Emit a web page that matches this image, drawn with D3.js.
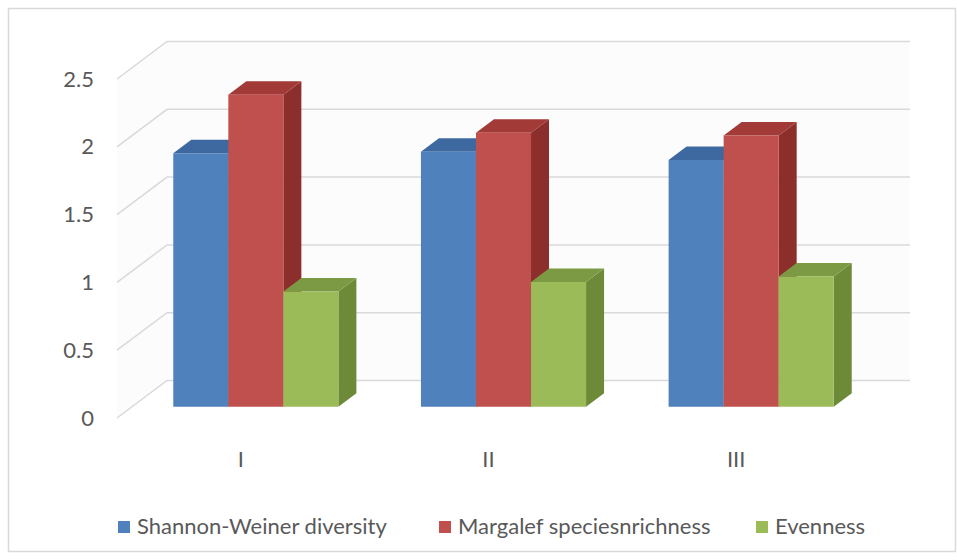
<!DOCTYPE html>
<html>
<head>
<meta charset="utf-8">
<script src="https://cdn.jsdelivr.net/npm/d3@7"></script>
<style>
  body { margin: 0; background: #fff; }
  svg { display: block; font-family: Lato, 'Open Sans', sans-serif; }
  .tick-label { fill: #595959; font-size: 22px; }
  .legend-label { fill: #595959; font-size: 22px; }
</style>
</head>
<body>
<svg id="chart" width="957" height="560"></svg>
<script>
const categories = ['I', 'II', 'III'];
const seriesNames = ['Shannon-Weiner diversity', 'Margalef speciesnrichness', 'Evenness'];
const shannon = [1.87, 1.88, 1.82];
const margalef = [2.30, 2.02, 2.00];
const evenness = [0.85, 0.92, 0.96];
const yTicks = [0, 0.5, 1, 1.5, 2, 2.5];

// front face / side / top colours per series
const colors = [
  { front: '#4f81bd', side: '#385d8a', top: '#3d68a0' },
  { front: '#c0504d', side: '#8c2f2c', top: '#a23a37' },
  { front: '#9bbb59', side: '#6d8a38', top: '#7c9a44' },
];

const values = [shannon, margalef, evenness];
const data = categories.map((c, i) => ({
  cat: c,
  vals: seriesNames.map((s, j) => ({ s, j, v: values[j][i] })),
}));

const svg = d3.select('#chart');

// outer border
svg.append('rect')
  .attr('x', 8.5).attr('y', 8.5)
  .attr('width', 947).attr('height', 543)
  .attr('fill', '#fff')
  .attr('stroke', '#d9d9d9')
  .attr('stroke-width', 1.5);

// front plane scales + depth offset
const DX = 50, DY = 37.5;
const x0 = d3.scaleBand().domain(categories).range([117, 860]);
const x1 = d3.scaleBand().domain(seriesNames).range([0, x0.bandwidth()])
  .paddingInner(0).paddingOuter(0.75);
const y = d3.scaleLinear().domain([0, 2.5]).range([418, 79]);

const P = (x, v, t) => [x + DX * t, y(v) - DY * t];
const poly = pts => pts.map(p => p.join(',')).join(' ');

// walls
const left = x0.range()[0], right = x0.range()[1];
svg.append('polygon')
  .attr('points', poly([P(left, 0, 0), P(left, 2.5, 0), P(left, 2.5, 1), P(right, 2.5, 1), P(right, 0, 1), P(left, 0, 1)]))
  .attr('fill', '#fcfcfc');

const grid = svg.append('g').attr('stroke', '#d9d9d9').attr('stroke-width', 1.5).attr('fill', 'none');
yTicks.forEach(v => {
  grid.append('polyline')
    .attr('points', poly([P(left, v, 0), P(left, v, 1), P(right, v, 1)]));
});

// tick labels
svg.append('g').selectAll('text').data(yTicks).join('text')
  .attr('class', 'tick-label')
  .attr('x', 94)
  .attr('y', d => y(d) + 2)
  .attr('text-anchor', 'end')
  .attr('dominant-baseline', 'middle')
  .text(d => d);

// bars
const t0 = 0.3, t1 = 0.66;
const groups = svg.append('g').selectAll('g').data(data).join('g');
groups.each(function (d) {
  const g = d3.select(this);
  d.vals.forEach(b => {
    const xl = x0(d.cat) + x1(b.s);
    const xr = xl + x1.bandwidth();
    const c = colors[b.j];
    g.append('polygon')
      .attr('points', poly([P(xr, 0, t0), P(xr, b.v, t0), P(xr, b.v, t1), P(xr, 0, t1)]))
      .attr('fill', c.side);
    g.append('polygon')
      .attr('points', poly([P(xl, b.v, t0), P(xr, b.v, t0), P(xr, b.v, t1), P(xl, b.v, t1)]))
      .attr('fill', c.top);
    g.append('polygon')
      .attr('points', poly([P(xl, 0, t0), P(xl, b.v, t0), P(xr, b.v, t0), P(xr, 0, t0)]))
      .attr('fill', c.front);
  });
});

// category labels
svg.append('g').selectAll('text').data(categories).join('text')
  .attr('class', 'tick-label')
  .attr('x', d => x0(d) + x0.bandwidth() / 2)
  .attr('y', 461)
  .attr('text-anchor', 'middle')
  .attr('dominant-baseline', 'middle')
  .text(d => d);

// legend
const legendX = [118, 439, 756];
const legend = svg.append('g').selectAll('g').data(seriesNames).join('g')
  .attr('transform', (d, i) => `translate(${legendX[i]}, 527)`);
legend.append('rect')
  .attr('x', 0).attr('y', -6)
  .attr('width', 12).attr('height', 12)
  .attr('fill', (d, i) => colors[i].front);
legend.append('text')
  .attr('class', 'legend-label')
  .attr('x', 19).attr('y', 1)
  .attr('dominant-baseline', 'middle')
  .text(d => d);
</script>
</body>
</html>
